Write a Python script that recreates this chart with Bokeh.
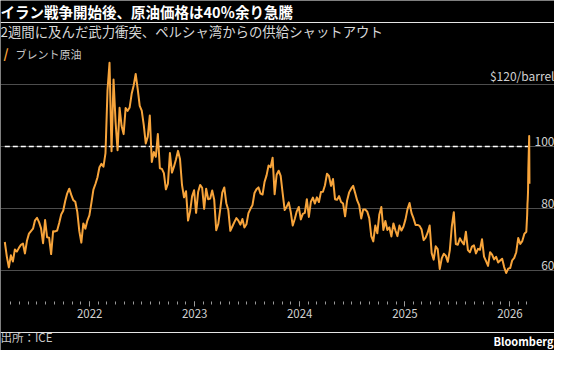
import pandas as pd
from bokeh.plotting import figure
from bokeh.models import FixedTicker, DatetimeTickFormatter, Label, Grid, Range1d
from bokeh.embed import file_html
from bokeh.resources import INLINE
from bokeh.core.properties import value

FONT = "Noto Sans CJK JP"

title_text = "イラン戦争開始後、原油価格は40％余り急騰"
subtitle_text = "2週間に及んだ武力衝突、ペルシャ湾からの供給シャットアウト"
series_name = "ブレント原油"
source_text = "出所：ICE"
brand_text = "Bloomberg"

# Weekly Brent closes (USD/barrel), Fridays starting 2021-03-12
weekly_start = "2021-03-12"
prices_2021 = [69.2, 64.5, 61.0,
               64.9, 62.9, 66.8, 66.1, 67.3,
               68.3, 68.7, 65.5, 69.6,
               71.9, 72.7, 73.5, 76.2,
               77.0, 75.6, 73.6, 68.8, 76.3,
               70.7, 70.6, 65.3, 72.7,
               72.6, 72.9, 75.3, 78.1,
               79.3, 82.4, 84.9, 86.4, 84.4,
               82.7, 82.2, 78.9, 72.7,
               69.0, 75.2, 73.5, 76.1, 77.8]
prices_2022 = [81.8, 86.1, 87.9, 90.0,
               93.3, 94.4, 93.5, 97.9,
               118.1, 127.0, 98.5, 121.6,
               108.0, 98.8, 112.5, 106.6, 104.0,
               112.4, 111.5, 112.6, 117.0,
               119.7, 123.4, 118.5, 113.1,
               111.6, 107.0, 101.0, 103.2, 110.0,
               95.0, 98.2, 96.7, 104.0,
               93.0, 92.8, 91.4, 86.2, 88.0,
               97.9, 91.6, 93.5, 95.8,
               98.6, 96.0, 87.6, 83.6,
               85.6, 76.1, 79.0, 83.9, 85.9]
prices_2023 = [78.6, 85.3, 87.6, 86.7,
               79.9, 86.4, 83.0, 83.2,
               85.8, 82.8, 73.0, 75.0, 79.8,
               85.1, 86.8, 81.7, 79.5,
               72.8, 74.2, 75.6, 76.9,
               76.1, 74.8, 76.6, 73.9, 74.9,
               78.5, 79.9, 81.1, 85.0,
               86.2, 86.8, 84.8, 84.5,
               88.6, 90.7, 93.9, 93.3, 96.4,
               84.6, 90.9, 92.2, 90.5,
               84.9, 79.5, 80.6, 82.0,
               78.9, 74.5, 76.6, 79.1, 80.5]
prices_2024 = [76.5, 78.3, 78.6, 83.0,
               77.3, 82.2, 83.5, 81.6,
               83.6, 82.1, 85.3, 85.4, 87.5,
               91.2, 90.5, 87.3, 89.5,
               83.0, 82.8, 84.0, 82.1, 81.6,
               77.5, 82.6, 85.2, 86.4,
               87.3, 85.0, 82.6, 81.1,
               76.8, 79.7, 79.7, 79.0, 76.9,
               71.1, 69.4, 74.5, 72.0,
               78.1, 80.5, 73.1, 76.0,
               73.1, 73.9, 71.0, 75.2, 72.9,
               71.1, 74.5, 72.9, 74.2]
prices_2025 = [76.5, 79.8, 81.8, 78.5, 76.8,
               74.7, 74.7, 74.4, 73.2,
               69.8, 70.6, 72.2, 74.5,
               65.6, 63.5, 67.8, 66.9,
               60.5, 63.9, 65.4, 64.8, 62.8,
               66.5, 74.2, 78.8, 68.5,
               68.3, 70.4, 69.3, 68.4,
               72.5, 66.6, 65.9, 67.7, 68.1,
               65.5, 67.0, 66.7, 70.1,
               64.5, 63.0, 61.5, 65.9, 65.1,
               63.6, 64.4, 62.6, 63.2,
               63.8, 61.1, 59.2, 60.6]
prices_2026 = [60.8, 63.3, 64.1, 65.9, 70.5, 68.6, 69.5, 71.8, 72.5]

# Daily closes during the March 2026 spike
final_dates = ["2026-03-02", "2026-03-03", "2026-03-04", "2026-03-05",
               "2026-03-06", "2026-03-09", "2026-03-10"]
final_prices = [78.0, 81.5, 83.0, 85.5, 92.5, 103.4, 88.0]

reference_level = 100
y_tick_values = [60, 80, 100, 120]
y_tick_labels = ["60", "80", "100", "$120/barrel"]
year_ticks = [2022, 2023, 2024, 2025, 2026]
axis_level = 50

# ---- build series ----
weekly_prices = prices_2021 + prices_2022 + prices_2023 + prices_2024 + prices_2025 + prices_2026
weekly_dates = list(pd.date_range(weekly_start, periods=len(weekly_prices), freq="7D"))
dates = weekly_dates + [pd.Timestamp(d) for d in final_dates]
prices = weekly_prices + final_prices

W, H = 554, 350

x_start = pd.Timestamp("2021-02-25")
x_end = pd.Timestamp("2026-06-05")
y_bottom, y_top = 34.2, 147.1


def ms(ts):
    return pd.Timestamp(ts).value / 1e6


major_ticks = [ms(f"{y}-01-01") for y in year_ticks]
minor_ticks = [ms(d) for d in pd.date_range("2021-04-01", "2026-03-01", freq="MS")]

p = figure(width=W, height=H, x_axis_type="datetime", y_axis_location=None,
           x_range=Range1d(x_start, x_end), y_range=Range1d(y_bottom, y_top),
           output_backend="svg", toolbar_location=None, title=None,
           background_fill_color="#000000", border_fill_color="#000000",
           outline_line_color=None, min_border=0)

p.xgrid.visible = False
p.add_layout(Grid(dimension=1, ticker=FixedTicker(ticks=y_tick_values),
                  grid_line_color="#4d4d4d", grid_line_width=1))

xa = p.xaxis[0]
xa.fixed_location = axis_level
xa.ticker = FixedTicker(ticks=major_ticks, minor_ticks=minor_ticks)
xa.formatter = DatetimeTickFormatter(years="%Y", months="%Y", days="%Y", hours="%Y",
                                     hourmin="%Y", minutes="%Y", minsec="%Y",
                                     seconds="%Y", milliseconds="%Y")
xa.axis_line_color = None
xa.major_tick_line_color = "#9a9a9a"
xa.minor_tick_line_color = "#9a9a9a"
xa.major_tick_out = 5
xa.major_tick_in = 0
xa.minor_tick_out = 3
xa.minor_tick_in = 0
xa.major_label_standoff = 2
xa.major_label_text_font = FONT
xa.major_label_text_font_size = "11.5px"
xa.major_label_text_color = "#d0d0d0"

# reference level line over the data span
p.line(x=[dates[0], dates[-1]], y=[reference_level, reference_level],
       line_color="#ffffff", line_width=1.5, line_dash="5 3")

p.line(x=dates, y=prices, line_color="#f7a43b", line_width=2, line_join="round")

p.text(x=[x_end] * len(y_tick_values), y=y_tick_values, text=y_tick_labels,
       text_align="right", text_baseline="bottom", y_offset=-1,
       text_font=value(FONT), text_font_size="12px", text_color="#d0d0d0")


def screen_label(x, y_from_top, text, size, color, bold=False, align="left",
                 baseline="middle"):
    # screen units are measured from the plotting area's bottom-left corner
    p.add_layout(Label(x=x, y=H - y_from_top, x_units="screen", y_units="screen",
                       text=text, text_font=FONT, text_font_size=size,
                       text_font_style="bold" if bold else "normal",
                       text_color=color, text_align=align, text_baseline=baseline))


screen_label(0, 10.5, title_text, "14.5px", "#ffffff", bold=True)
screen_label(0, 30, subtitle_text, "13.4px", "#d8d8d8")
screen_label(3, 53, "/", "13px", "#f7a43b", bold=True)
screen_label(15, 53, series_name, "11px", "#c8c8c8")
screen_label(0, 336, source_text, "11.5px", "#c8c8c8")
screen_label(W - 1, 340, brand_text, "11px", "#ffffff", bold=True, align="right")

open("out.html", "w").write(file_html(p, INLINE))
